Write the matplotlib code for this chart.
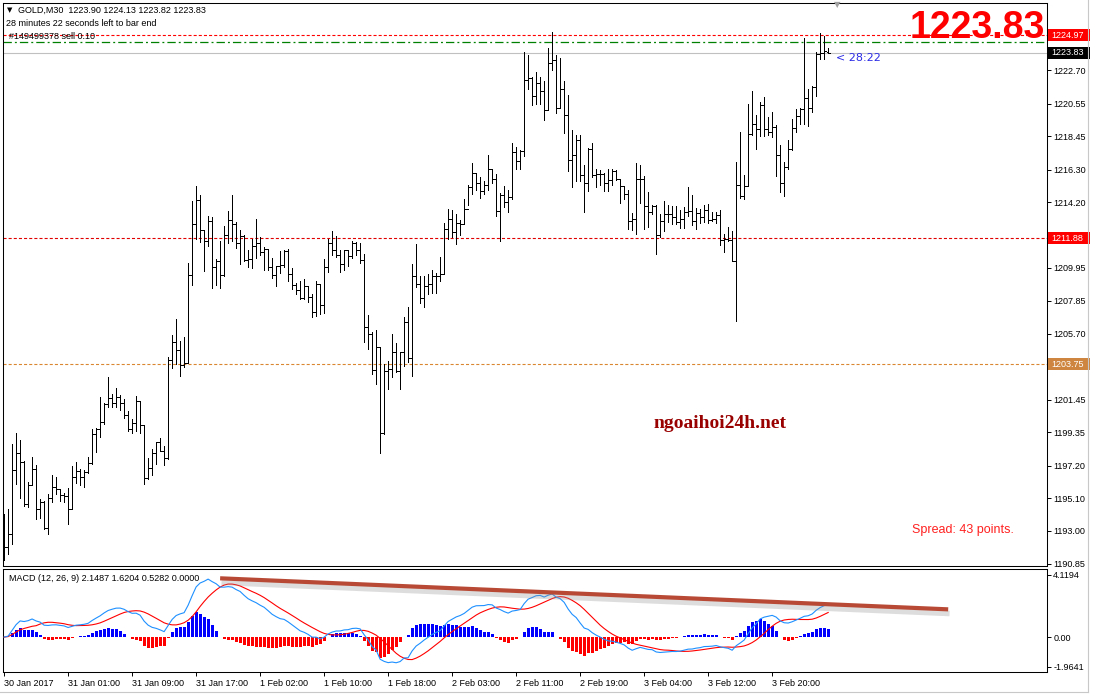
import numpy as np
import pandas as pd
import matplotlib
matplotlib.use("Agg")
import matplotlib.pyplot as plt
import matplotlib.patheffects as pe
from matplotlib.patches import Rectangle
from matplotlib.transforms import blended_transform_factory

plt.rcParams['font.family'] = ['Liberation Sans', 'DejaVu Sans']
plt.rcParams['lines.scale_dashes'] = False

# GOLD M30 bars
opens = [1192.20, 1191.94, 1192.76, 1196.90, 1197.98, 1197.46, 1194.70, 1195.93, 1196.96, 1194.38,
         1194.85, 1193.19, 1195.09, 1195.82, 1195.67, 1195.30, 1195.24, 1194.42, 1196.47, 1196.86,
         1196.47, 1196.81, 1197.37, 1199.23, 1199.55, 1200.04, 1201.17, 1201.53, 1201.27, 1201.60,
         1201.23, 1200.45, 1199.55, 1199.94, 1201.34, 1199.81, 1196.42, 1197.07, 1197.98, 1198.69,
         1198.15, 1197.72, 1204.01, 1205.20, 1204.66, 1203.71, 1203.82, 1209.50, 1212.80, 1214.35,
         1212.37, 1211.72, 1212.97, 1210.00, 1210.39, 1209.50, 1212.11, 1213.06, 1212.76, 1211.55,
         1212.00, 1210.47, 1210.54, 1211.36, 1211.55, 1211.01, 1211.19, 1210.00, 1209.50, 1210.07,
         1210.15, 1211.02, 1209.57, 1208.86, 1208.50, 1208.00, 1208.77, 1208.06, 1207.14, 1208.93,
         1207.57, 1210.00, 1211.58, 1211.08, 1210.80, 1210.22, 1211.08, 1210.71, 1211.58, 1211.12,
         1210.48, 1206.12, 1205.69, 1203.39, 1204.87, 1199.29, 1203.32, 1203.43, 1204.51, 1203.28,
         1204.51, 1206.49, 1204.14, 1209.46, 1208.93, 1208.00, 1208.82, 1208.93, 1209.46, 1209.46,
         1209.57, 1212.44, 1213.13, 1212.27, 1212.87, 1212.76, 1213.77, 1215.18, 1216.10, 1215.46,
         1214.90, 1215.28, 1216.32, 1215.71, 1213.60, 1214.64, 1214.21, 1214.53, 1217.44, 1216.86,
         1217.48, 1222.07, 1222.24, 1221.04, 1221.86, 1221.36, 1220.13, 1223.15, 1223.40, 1220.30,
         1221.53, 1219.81, 1216.94, 1217.22, 1218.19, 1215.93, 1215.43, 1217.65, 1215.93, 1216.00,
         1216.04, 1215.43, 1215.61, 1216.21, 1215.71, 1215.22, 1214.70, 1212.96, 1213.13, 1215.71,
         1215.71, 1213.92, 1213.56, 1213.92, 1212.09, 1212.98, 1213.45, 1213.45, 1213.24, 1212.91,
         1213.13, 1213.56, 1213.62, 1212.96, 1213.49, 1213.24, 1213.71, 1213.02, 1213.08, 1213.34,
         1211.77, 1211.84, 1211.73, 1210.43, 1215.33, 1214.57, 1215.22, 1218.62, 1219.23, 1218.95,
         1220.45, 1218.95, 1218.73, 1219.05, 1217.27, 1215.46, 1216.47, 1217.61, 1219.01, 1219.74,
         1220.24, 1220.90, 1220.30, 1221.60, 1223.75, 1223.84, 1223.90]
highs = [1194.10, 1194.38, 1198.58, 1199.29, 1198.84, 1197.50, 1196.17, 1197.76, 1197.22, 1195.02,
         1194.92, 1195.35, 1196.60, 1196.47, 1195.67, 1195.45, 1195.78, 1197.18, 1197.44, 1197.01,
         1196.92, 1197.76, 1199.59, 1199.61, 1201.64, 1201.27, 1202.93, 1201.81, 1202.20, 1201.75,
         1201.49, 1200.73, 1200.20, 1201.70, 1201.38, 1199.83, 1197.67, 1198.26, 1198.73, 1198.97,
         1198.47, 1204.23, 1205.65, 1206.68, 1205.26, 1205.52, 1210.28, 1214.25, 1215.22, 1214.63,
         1212.41, 1213.30, 1213.23, 1210.50, 1211.66, 1212.69, 1213.60, 1214.68, 1212.91, 1212.37,
         1212.05, 1211.08, 1211.83, 1213.13, 1211.94, 1211.29, 1211.14, 1210.60, 1210.11, 1211.02,
         1211.08, 1211.19, 1209.96, 1208.99, 1209.14, 1209.21, 1208.82, 1208.28, 1209.14, 1208.93,
         1210.50, 1211.79, 1212.31, 1211.99, 1211.08, 1211.12, 1211.08, 1211.66, 1211.62, 1211.55,
         1210.87, 1206.92, 1205.80, 1205.95, 1204.87, 1203.75, 1203.97, 1205.69, 1205.09, 1204.55,
         1206.77, 1207.42, 1210.22, 1211.51, 1209.46, 1209.46, 1209.57, 1209.83, 1209.64, 1210.69,
         1212.85, 1213.77, 1213.71, 1213.45, 1213.06, 1214.42, 1215.28, 1216.75, 1216.08, 1215.82,
         1215.56, 1217.22, 1216.36, 1216.04, 1214.81, 1215.22, 1215.00, 1218.02, 1217.76, 1217.59,
         1223.86, 1223.69, 1222.29, 1222.57, 1222.29, 1222.01, 1224.12, 1225.20, 1223.69, 1223.47,
         1222.01, 1221.10, 1218.84, 1218.52, 1218.52, 1216.58, 1217.70, 1218.04, 1216.36, 1216.25,
         1216.08, 1216.32, 1216.36, 1216.30, 1215.65, 1215.24, 1214.96, 1213.49, 1216.75, 1216.58,
         1215.86, 1214.85, 1214.03, 1213.99, 1213.45, 1214.25, 1214.03, 1213.92, 1213.95, 1213.67,
         1213.88, 1215.18, 1214.64, 1213.84, 1213.77, 1214.03, 1214.10, 1213.56, 1213.56, 1213.71,
         1212.16, 1212.59, 1212.31, 1216.79, 1218.73, 1215.93, 1220.52, 1221.36, 1219.85, 1220.67,
         1221.00, 1219.70, 1220.02, 1219.20, 1217.87, 1216.79, 1218.19, 1219.59, 1220.24, 1220.30,
         1224.77, 1221.53, 1221.68, 1223.86, 1225.09, 1224.94, 1224.13]
lows = [1191.10, 1191.47, 1192.11, 1196.00, 1195.13, 1194.59, 1194.55, 1196.00, 1193.77, 1193.84,
        1193.08, 1192.80, 1194.87, 1195.39, 1194.92, 1194.85, 1193.45, 1194.38, 1196.10, 1195.95,
        1195.84, 1196.75, 1197.29, 1198.08, 1199.07, 1199.87, 1200.95, 1201.01, 1200.95, 1200.80,
        1200.30, 1199.44, 1199.33, 1199.44, 1199.33, 1196.04, 1196.32, 1196.60, 1197.29, 1198.11,
        1197.24, 1197.61, 1203.47, 1203.75, 1203.00, 1203.54, 1203.79, 1208.88, 1211.83, 1211.62,
        1209.74, 1211.34, 1208.64, 1208.86, 1208.64, 1209.46, 1211.55, 1211.68, 1211.23, 1210.22,
        1210.39, 1210.04, 1209.94, 1210.60, 1210.80, 1209.83, 1209.83, 1209.31, 1208.77, 1209.64,
        1210.00, 1209.08, 1208.60, 1208.28, 1207.96, 1207.96, 1207.74, 1206.77, 1206.88, 1206.99,
        1207.03, 1209.68, 1210.76, 1210.65, 1209.68, 1209.79, 1210.11, 1210.58, 1210.76, 1210.26,
        1205.15, 1204.72, 1203.11, 1202.46, 1197.98, 1199.23, 1202.14, 1202.89, 1203.22, 1202.14,
        1203.65, 1203.86, 1202.96, 1208.71, 1207.68, 1207.42, 1208.28, 1208.32, 1208.32, 1209.14,
        1209.57, 1211.84, 1211.94, 1211.47, 1212.05, 1212.76, 1213.99, 1214.74, 1215.00, 1214.49,
        1214.74, 1214.96, 1215.43, 1213.30, 1211.68, 1213.88, 1213.56, 1214.38, 1216.36, 1216.36,
        1217.18, 1221.53, 1220.50, 1220.56, 1220.52, 1219.53, 1220.13, 1222.72, 1219.96, 1220.30,
        1218.67, 1216.21, 1215.18, 1215.56, 1215.56, 1213.56, 1214.92, 1215.82, 1215.18, 1215.28,
        1214.92, 1214.92, 1215.28, 1215.65, 1214.14, 1214.42, 1212.48, 1212.37, 1212.16, 1214.14,
        1212.48, 1212.59, 1213.45, 1210.87, 1211.94, 1212.33, 1212.91, 1212.80, 1212.76, 1212.55,
        1212.55, 1213.28, 1212.70, 1212.48, 1212.85, 1212.91, 1212.87, 1212.96, 1212.85, 1211.45,
        1210.97, 1211.66, 1210.43, 1206.56, 1214.46, 1214.38, 1215.22, 1218.52, 1217.65, 1218.45,
        1218.45, 1218.52, 1218.41, 1215.89, 1214.85, 1214.59, 1216.36, 1217.59, 1218.73, 1219.27,
        1219.23, 1219.10, 1220.02, 1221.04, 1223.41, 1223.41, 1223.82]
closes = [1191.94, 1192.76, 1196.90, 1197.98, 1197.46, 1194.70, 1195.93, 1196.96, 1194.38, 1194.85,
          1193.19, 1195.09, 1195.82, 1195.67, 1195.30, 1195.24, 1194.42, 1196.47, 1196.86, 1196.47,
          1196.81, 1197.37, 1199.23, 1199.55, 1200.04, 1201.17, 1201.53, 1201.27, 1201.60, 1201.23,
          1200.45, 1199.55, 1199.94, 1201.34, 1199.81, 1196.42, 1197.07, 1197.98, 1198.69, 1198.15,
          1197.72, 1204.01, 1205.20, 1204.66, 1203.71, 1203.82, 1209.50, 1212.80, 1214.35, 1212.37,
          1211.72, 1212.97, 1210.00, 1210.39, 1209.50, 1212.11, 1213.06, 1212.76, 1211.55, 1212.00,
          1210.47, 1210.54, 1211.36, 1211.55, 1211.01, 1211.19, 1210.00, 1209.50, 1210.07, 1210.15,
          1211.02, 1209.57, 1208.86, 1208.50, 1208.00, 1208.77, 1208.06, 1207.14, 1208.93, 1207.57,
          1210.00, 1211.58, 1211.08, 1210.80, 1210.22, 1211.08, 1210.71, 1211.58, 1211.12, 1210.48,
          1206.12, 1205.69, 1203.39, 1204.87, 1199.29, 1203.32, 1203.43, 1204.51, 1203.28, 1204.51,
          1206.49, 1204.14, 1209.46, 1208.93, 1208.00, 1208.82, 1208.93, 1209.46, 1209.46, 1209.57,
          1212.44, 1213.13, 1212.27, 1212.87, 1212.76, 1213.77, 1215.18, 1216.10, 1215.46, 1214.90,
          1215.28, 1216.32, 1215.71, 1213.60, 1214.64, 1214.21, 1214.53, 1217.44, 1216.86, 1217.48,
          1222.07, 1222.24, 1221.04, 1221.86, 1221.36, 1220.13, 1223.15, 1223.40, 1220.30, 1221.53,
          1219.81, 1216.94, 1217.22, 1218.19, 1215.93, 1215.43, 1217.65, 1215.93, 1216.00, 1216.04,
          1215.43, 1215.61, 1216.21, 1215.71, 1215.22, 1214.70, 1212.96, 1213.13, 1215.71, 1215.71,
          1213.92, 1213.56, 1213.92, 1212.09, 1212.98, 1213.45, 1213.45, 1213.24, 1212.91, 1213.13,
          1213.56, 1213.62, 1212.96, 1213.49, 1213.24, 1213.71, 1213.02, 1213.08, 1213.34, 1211.77,
          1211.84, 1211.73, 1210.43, 1215.33, 1214.57, 1215.22, 1218.62, 1219.23, 1218.95, 1220.45,
          1218.95, 1218.73, 1219.05, 1217.27, 1215.46, 1216.47, 1217.61, 1219.01, 1219.74, 1220.24,
          1220.90, 1220.30, 1221.60, 1223.75, 1223.84, 1223.97, 1223.83]

time_labels = ["30 Jan 2017", "31 Jan 01:00", "31 Jan 09:00", "31 Jan 17:00", "1 Feb 02:00",
               "1 Feb 10:00", "1 Feb 18:00", "2 Feb 03:00", "2 Feb 11:00", "2 Feb 19:00",
               "3 Feb 04:00", "3 Feb 12:00", "3 Feb 20:00"]
price_ticks = [1224.85, 1222.70, 1220.55, 1218.45, 1216.30, 1214.20, 1212.05, 1209.95, 1207.85,
               1205.70, 1203.60, 1201.45, 1199.35, 1197.20, 1195.10, 1193.00, 1190.85]
# scale labels that sit under the coloured price boxes are not shown
hidden_ticks = [1224.85, 1212.05, 1203.60]
macd_ticks = [4.1194, 0.0, -1.9641]
macd_tick_labels = ["4.1194", "0.00", "-1.9641"]

# levels on the chart
sl_level = 1224.97
order_level = 1224.52
bid = 1223.83
level_red = 1211.88
level_orange = 1203.75

# hand-drawn trend line on the MACD window (bar index, value)
trend_x = [54, 236]
trend_y = [3.90, 1.84]

W, H = 1093, 694
fig = plt.figure(figsize=(W / 100, H / 100), dpi=100, facecolor='white')


def box(x0, y0, x1, y1):
    return [x0 / W, 1 - y1 / H, (x1 - x0) / W, (y1 - y0) / H]


def fp(x, y):
    return x / W, 1 - y / H


ax = fig.add_axes(box(3, 3, 1047, 566))
axm = fig.add_axes(box(3, 569, 1047, 672), sharex=ax)

n = len(closes)
idx = np.arange(n)

# OHLC bars
bar_lw = 0.7
ax.vlines(idx, lows, highs, color='black', lw=bar_lw, antialiased=False, zorder=3)
ax.hlines(opens, idx - 0.35, idx, color='black', lw=bar_lw, antialiased=False, zorder=3)
ax.hlines(closes, idx, idx + 0.35, color='black', lw=bar_lw, antialiased=False, zorder=3)

ax.axhline(sl_level, color='#FF0000', lw=0.8, ls=(0, (2.2, 1.5)), zorder=2)
ax.axhline(order_level, color='#008000', lw=0.9, ls=(0, (6, 2.2, 1.4, 2.2)), zorder=2)
ax.axhline(bid, color='#C0C0C0', lw=0.8, zorder=2)
ax.axhline(level_red, color='#E00000', lw=0.8, ls=(0, (2.2, 1.5)), zorder=2)
ax.axhline(level_orange, color='#DA8530', lw=0.8, ls=(0, (2.2, 1.5)), zorder=2)

ax.set_xlim(-0.275, 260.7)
ax.set_ylim(1190.72, 1227.05)
ax.yaxis.tick_right()
ax.set_yticks(price_ticks)
ax.set_yticklabels(["" if v in hidden_ticks else f"{v:.2f}" for v in price_ticks])
ax.tick_params(axis='y', direction='out', length=3, width=0.7, pad=1.5, labelsize=6.5)
ax.tick_params(axis='x', bottom=False, labelbottom=False)
for s in ax.spines.values():
    s.set_linewidth(0.75)

# price labels on the right scale
bt = blended_transform_factory(ax.transAxes, ax.transData)
half = 6 * 36.33 / 563
for lvl, txt, col in [(sl_level, "1224.97", '#FF0000'), (bid, "1223.83", '#000000'),
                      (level_red, "1211.88", '#FF0000'), (level_orange, "1203.75", '#CD853F')]:
    r = Rectangle((1.001, lvl - half), 0.0402, 2 * half, transform=bt, facecolor=col,
                  edgecolor='none', clip_on=False, zorder=5)
    ax.add_patch(r)
    ax.text(1.0045, lvl, txt, transform=bt, color='white', fontsize=6.5, va='center',
            ha='left', clip_on=False, zorder=6)

# MACD window
s = pd.Series(closes)
macd = s.ewm(span=12, adjust=False).mean() - s.ewm(span=26, adjust=False).mean()
signal = macd.rolling(9, min_periods=1).mean()
hist = macd - signal
cols = np.where(hist >= 0, '#0000FF', '#FF0000')
axm.bar(idx, hist, width=0.75, color=cols, linewidth=0, zorder=2)
axm.plot(idx, signal, color='#FF0000', lw=0.8, zorder=3)
axm.plot(idx, macd, color='#1E90FF', lw=0.8, zorder=3)
axm.plot(trend_x, trend_y, color='#B84A35', lw=3, solid_capstyle='butt', zorder=4,
         path_effects=[pe.SimpleLineShadow(offset=(1, -3), shadow_color='#909090', alpha=0.3,
                                           linewidth=4),
                       pe.Normal()])
axm.set_ylim(-2.316, 4.517)
axm.yaxis.tick_right()
axm.set_yticks(macd_ticks)
axm.set_yticklabels(macd_tick_labels)
axm.tick_params(axis='y', direction='out', length=3, width=0.7, pad=1.5, labelsize=6.5)
axm.set_xticks(np.arange(len(time_labels)) * 16)
axm.set_xticklabels(time_labels, ha='left')
axm.tick_params(axis='x', direction='out', length=3, width=0.7, pad=2, labelsize=6.5)
for s_ in axm.spines.values():
    s_.set_linewidth(0.75)
axm.text(0.0055, 0.91, "MACD (12, 26, 9) 2.1487 1.6204 0.5282 0.0000", transform=axm.transAxes,
         fontsize=6.5, va='center', ha='left')

# texts on the chart
fig.text(*fp(7, 10.5), "\u25BC", fontsize=5, va='center', ha='left', family='DejaVu Sans')
fig.text(*fp(18, 10.5), "GOLD,M30  1223.90 1224.13 1223.82 1223.83", fontsize=6.5, va='center')
fig.text(*fp(6, 24), "28 minutes 22 seconds left to bar end", fontsize=6.5, va='center')
fig.text(*fp(9, 36.5), "#149499378 sell 0.10", fontsize=6.5, va='center')
fig.text(*fp(1045, 38.5), "1223.83", fontsize=27, fontweight='bold', color='#FF0000',
         ha='right', va='baseline')
fig.text(*fp(836, 58), "< 28:22", fontsize=8, color='#2A2AE6', va='center',
         family='DejaVu Sans')
fig.text(*fp(653, 424), "ngoaihoi24h.net", fontsize=14, fontweight='bold', color='#990000',
         va='center', family='Liberation Serif')
fig.text(*fp(912, 530), "Spread: 43 points.", fontsize=9, color='#FF2020', va='center')
fig.text(*fp(837, 5), "\u25BC", fontsize=6, color='#A0A0A0', ha='center', va='center',
         family='DejaVu Sans')

# window borders
fig.add_artist(plt.Line2D([1088 / W, 1088 / W], [1 - 692 / H, 1], transform=fig.transFigure,
                          color='#C8C8C8', lw=0.8))
fig.add_artist(plt.Line2D([0, 1088 / W], [1 - 692 / H, 1 - 692 / H], transform=fig.transFigure,
                          color='#C8C8C8', lw=0.8))

fig.savefig("out.png", dpi=100, facecolor='white')
